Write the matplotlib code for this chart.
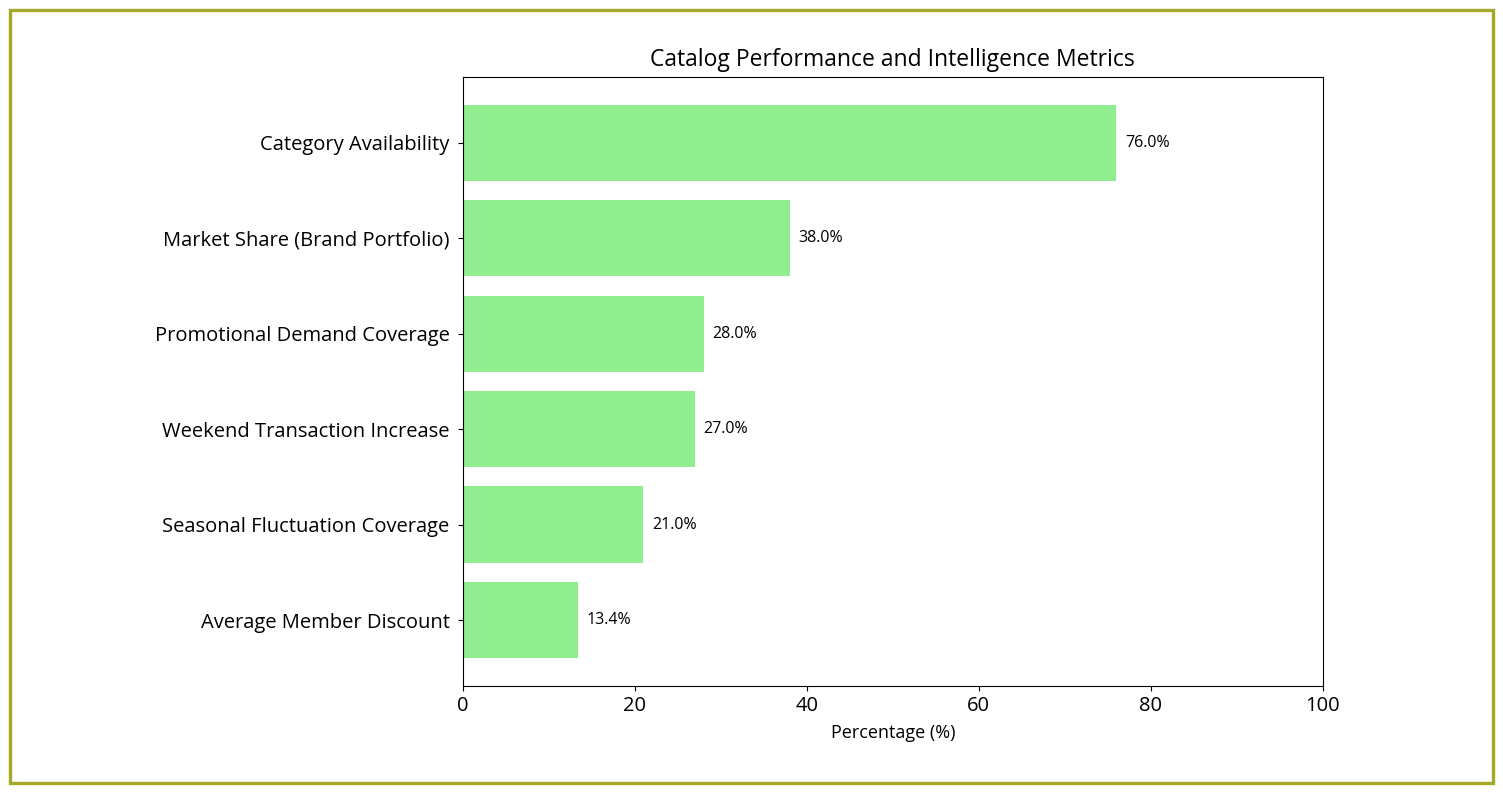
import matplotlib
matplotlib.use('Agg')
import matplotlib.pyplot as plt
from matplotlib.patches import Rectangle

plt.rcParams['font.family'] = ['Open Sans', 'DejaVu Sans']

# data, bottom to top
metrics = [
    'Average Member Discount',
    'Seasonal Fluctuation Coverage',
    'Weekend Transaction Increase',
    'Promotional Demand Coverage',
    'Market Share (Brand Portfolio)',
    'Category Availability',
]
percentages = [13.4, 21.0, 27.0, 28.0, 38.0, 76.0]

fig = plt.figure(figsize=(15.03, 7.93), dpi=100)
ax = fig.add_axes([0.308, 0.135, 0.572, 0.768])

bars = ax.barh(metrics, percentages, height=0.8, color='lightgreen')
for bar, val in zip(bars, percentages):
    ax.text(bar.get_width() + 1, bar.get_y() + bar.get_height() / 2,
            f'{val:.1f}%', va='center', ha='left', fontsize=11.5)

ax.set_xlim(0, 100)
ax.set_title('Catalog Performance and Intelligence Metrics', fontsize=16.5, pad=8)
ax.set_xlabel('Percentage (%)', fontsize=13, labelpad=6)
ax.tick_params(axis='y', labelsize=14.5, pad=6)
ax.tick_params(axis='x', labelsize=14.5)

# olive frame round the whole picture
fig.patches.append(Rectangle((0.0065, 0.012), 0.987, 0.976, transform=fig.transFigure,
                             fill=False, edgecolor='#a8a828', linewidth=2.4))

fig.savefig('out.png', dpi=100)
